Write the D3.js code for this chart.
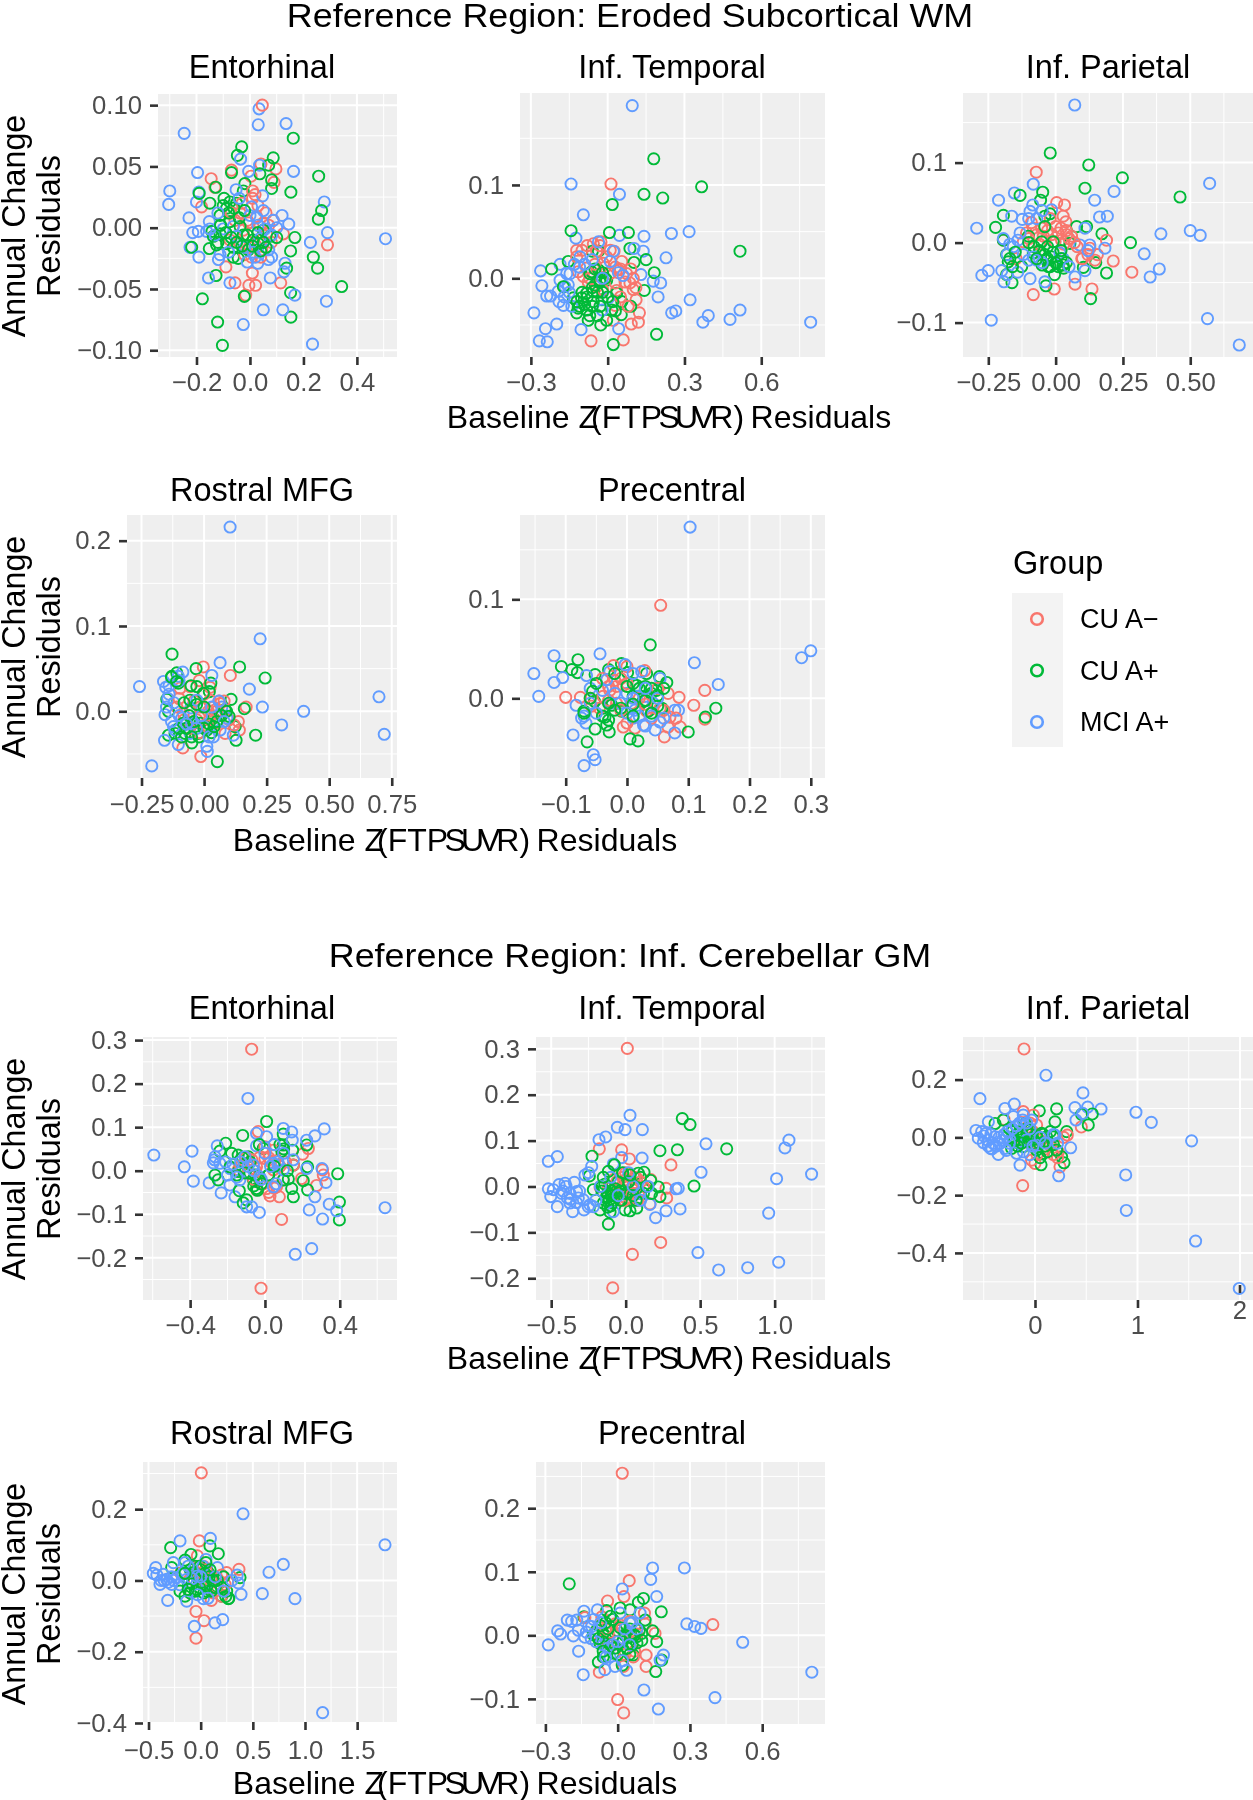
<!DOCTYPE html>
<html><head><meta charset="utf-8">
<script src="https://cdn.jsdelivr.net/npm/d3@7/dist/d3.min.js"></script>
<style>
html,body{margin:0;padding:0;background:#fff}
svg{display:block;filter:blur(0.35px)}
text{font-family:"Liberation Sans",Arial,sans-serif}
</style></head><body>
<div id="chart"></div>
<script>
// ---------- Data: [baseline residual, annual change residual] ----------
const groups = ["CU A−","CU A+","MCI A+"];
const groupColors = ["#F8766D","#00BA38","#619CFF"];
const regionTitles = ["Entorhinal","Inf. Temporal","Inf. Parietal","Rostral MFG","Precentral"];
const sectionTitles = ["Reference Region: Eroded Subcortical WM","Reference Region: Inf. Cerebellar GM"];

const wmEntorhinalRed=[[.046,.1],[-.069,.047],[.041,.052],[.097,.048],[.004,.042],[-.145,.04],[.09,.037],[-.181,.017],[.019,.027],[-.131,.033],[.29,-.014],[.125,-.005],[-.09,-.032],[.009,-.037],[-.056,-.045],[-.004,-.047],[.021,-.047],[.115,-.045],[-.016,-.055],[-.056,.006],[.025,.009],[-.006,.004],[.087,.006],[-.025,-.002],[.037,.001],[0,-.016],[.044,-.018],[.006,-.024],[-.037,.012],[.062,-.005],[-.075,-.01],[-.03,.02],[.01,.024],[.03,.018],[-.01,.006],[.015,-.004],[.05,.004],[.07,.002],[-.04,-.012],[.02,-.014],[.04,-.024],[-.02,-.022],[.06,.012],[.08,-.012],[-.07,.012],[.01,.03]];
const wmEntorhinalGreen=[[.162,.073],[-.031,.066],[-.047,.059],[.087,.057],[.07,.051],[-.069,.045],[.037,.044],[.257,.042],[.081,.039],[-.019,.036],[.081,.032],[-.128,.033],[.153,.029],[-.19,.028],[-.025,.03],[-.097,.024],[-.15,.02],[-.075,.021],[.268,.014],[.256,.007],[-.112,.01],[-.087,.016],[-.05,.02],[-.142,-.003],[-.218,-.016],[-.152,-.017],[-.125,-.014],[.168,-.008],[.152,-.019],[.237,-.024],[.253,-.033],[.137,-.033],[-.127,-.039],[.343,-.048],[.152,-.053],[-.178,-.058],[-.021,-.056],[.153,-.073],[-.121,-.077],[-.103,-.096],[-.062,-.024],[-.044,-.025],[-.075,.005],[-.037,.001],[-.112,-.005],[-.087,-.013],[-.025,-.006],[.012,-.01],[.05,-.002],[.075,-.007],[-.062,-.016],[-.006,-.018],[.031,-.013],[-.137,-.007],[-.1,.018],[-.08,.012],[-.06,.016],[-.04,.008],[-.09,-.004],[-.07,-.008],[-.05,-.012],[-.03,-.015],[-.01,-.006],[.01,-.015],[.03,-.004],[.05,-.012],[.06,-.016],[-.11,.002],[-.12,-.012],[-.02,.014],[.1,-.008],[.04,-.019]];
const wmEntorhinalBlue=[[.034,.097],[.031,.084],[.135,.085],[-.246,.077],[-.035,.056],[.036,.051],[.163,.046],[-.005,.046],[-.196,.045],[-.3,.03],[-.304,.019],[-.191,.029],[-.2,.021],[-.228,.008],[-.152,.005],[-.214,-.004],[-.193,-.003],[-.162,-.003],[.278,.021],[.12,.01],[.145,.003],[.29,-.004],[.226,-.012],[.507,-.009],[-.224,-.016],[-.191,-.024],[-.112,-.022],[-.118,-.026],[.029,-.029],[.081,-.024],[.069,-.026],[.131,-.029],[.127,-.036],[.076,-.041],[-.155,-.041],[-.075,-.045],[.168,-.055],[.286,-.06],[.05,-.067],[.123,-.067],[-.025,-.079],[.234,-.095],[-.052,.031],[.047,.026],[.006,.017],[.05,.014],[.025,.008],[.087,.006],[-.062,.001],[-.1,-.001],[.056,-.001],[-.05,-.007],[-.019,-.016],[.012,-.02],[.081,-.006],[.037,-.009],[-.13,-.006],[-.15,-.001],[-.08,-.02],[0,.01],[.03,.002],[.1,0],[.07,-.018],[.02,-.024],[-.01,-.028],[-.12,.012],[-.04,.024]];

const wmTemporalRed=[[.013,.101],[-.026,.039],[-.056,.037],[-.121,.03],[.025,.029],[.055,.018],[.074,.005],[.087,-.005],[.1,-.012],[.111,-.023],[.124,-.037],[.12,-.047],[.092,-.049],[-.065,-.067],[.061,-.066],[.022,-.045],[-.095,.002],[-.076,-.004],[-.043,-.009],[.009,.005],[-.082,.011],[-.115,.007],[-.017,.016],[.035,-.013],[.068,-.004],[.029,-.029],[-.121,.023],[-.043,.029],[-.004,.023],[.042,.009],[-.1,.03],[-.08,.035],[-.03,.035],[.01,.03],[-.01,.012],[.03,.012],[.05,.01],[.09,.01],[.1,0],[.11,-.01],[-.07,0],[-.02,-.012],[.05,-.02],[.08,-.03],[-.05,.015],[.03,-.005]];
const wmTemporalGreen=[[.18,.128],[.367,.098],[.142,.09],[.215,.086],[.018,.079],[-.143,.051],[.007,.049],[.081,.049],[.087,.032],[.517,.029],[-.036,.029],[-.06,.029],[.15,.02],[.103,.017],[-.154,.018],[-.219,.01],[.182,.006],[.143,-.013],[.09,-.03],[.053,-.039],[-.004,-.045],[-.027,-.05],[-.076,-.045],[.191,-.06],[.022,-.071],[-.121,-.037],[-.115,-.032],[-.134,-.021],[-.102,-.021],[-.056,-.014],[-.03,-.004],[-.063,.007],[-.004,-.002],[-.036,.009],[-.049,-.007],[-.082,-.016],[.035,-.016],[.055,-.025],[-.023,-.023],[-.056,-.025],[.016,-.034],[-.082,-.034],[-.173,-.009],[-.07,.005],[-.05,.01],[-.03,-.002],[-.01,0],[-.02,.006],[-.06,-.01],[-.04,-.015],[-.02,-.015],[-.08,-.02],[-.1,-.015],[-.09,-.028],[-.06,-.03],[-.03,-.03],[0,-.02],[.02,-.025],[-.11,-.03],[-.12,-.025],[-.07,-.04],[-.04,-.04],[.03,-.035]];
const wmTemporalBlue=[[.096,.185],[-.143,.101],[.046,.09],[-.095,.068],[-.124,.043],[.046,.046],[.142,.045],[.249,.048],[.318,.05],[.228,.022],[.139,.029],[.103,.032],[-.262,.008],[-.186,.015],[-.257,-.008],[.13,.004],[.178,-.003],[.207,-.005],[.197,-.02],[.322,-.023],[-.238,-.019],[-.223,-.019],[-.288,-.037],[-.199,-.049],[-.243,-.054],[-.267,-.067],[-.236,-.068],[-.104,-.055],[.043,-.054],[.25,-.037],[.266,-.035],[.393,-.04],[.372,-.047],[.478,-.044],[.517,-.034],[.793,-.047],[-.173,-.029],[-.167,-.009],[-.154,-.007],[-.186,-.002],[-.108,.023],[-.147,.005],[-.193,-.014],[.003,-.021],[-.021,-.034],[.042,.006],[-.036,.039],[.022,.029],[-.13,.015],[-.11,.012],[-.16,.005],[-.15,-.015],[-.17,-.02],[-.14,-.03],[-.19,-.025],[-.09,.015],[-.06,.02],[.01,.018],[.06,.003],[-.02,0]];

const wmParietalRed=[[-.072,.088],[.004,.05],[.033,.047],[.028,.033],[.038,.026],[-.194,.003],[-.147,-.02],[-.083,.018],[-.108,.012],[-.052,.018],[-.015,.01],[.01,.012],[.041,.01],[.059,.008],[.022,.003],[.189,.003],[.214,-.023],[.283,-.037],[.155,-.015],[.097,-.02],[.127,-.007],[.135,-.058],[.072,-.052],[-.005,-.058],[-.083,-.065],[-.046,.008],[-.12,.001],[-.002,.001],[.146,-.022],[-.09,.025],[-.07,.01],[-.03,.015],[-.06,-.002],[0,.02],[.02,.018],[.04,.015],[.05,.005],[.03,-.002],[.08,-.005],[-.1,.005],[.07,0],[-.02,.03],[.1,-.02],[.12,-.015]];
const wmParietalGreen=[[-.02,.112],[.123,.097],[.248,.081],[.109,.068],[.462,.057],[-.048,.063],[-.132,.059],[-.056,.053],[-.194,.034],[-.223,.019],[-.021,.036],[-.04,.033],[.078,.02],[.115,.02],[.172,.011],[.278,0],[-.194,.003],[.053,-.001],[-.182,-.015],[-.176,-.024],[-.182,-.04],[-.162,-.05],[-.126,-.03],[-.036,-.054],[-.004,-.04],[.189,-.038],[.149,-.025],[.103,-.031],[.13,-.07],[-.083,-.013],[-.058,-.011],[-.033,-.022],[-.027,-.03],[.004,-.026],[.028,-.028],[-.015,-.018],[-.052,.001],[-.009,.001],[-.101,.008],[-.08,-.005],[-.06,-.01],[-.04,-.015],[-.03,-.02],[-.02,-.03],[0,-.025],[.02,-.02],[.03,-.032],[.04,-.025],[-.05,-.028],[-.01,-.012],[-.07,-.02],[.01,-.03],[-.03,-.005],[-.17,-.02],[-.16,-.03],[-.15,-.012],[.02,-.01],[-.04,.02],[-.1,0]];
const wmParietalBlue=[[.071,.172],[.572,.074],[-.083,.073],[.217,.064],[-.153,.062],[-.212,.053],[.145,.053],[-.015,.041],[-.085,.047],[-.095,.039],[.163,.032],[.192,.033],[-.163,.033],[-.124,.029],[-.293,.018],[.391,.011],[.5,.015],[.537,.009],[.329,-.014],[.385,-.033],[.351,-.043],[.183,-.007],[.109,.018],[.127,-.003],[.09,-.003],[-.25,-.035],[-.274,-.041],[-.2,-.035],[-.192,-.049],[-.179,-.04],[-.141,-.037],[-.095,-.045],[-.04,-.049],[.072,-.043],[.109,-.035],[-.239,-.097],[.564,-.095],[.682,-.128],[.016,-.013],[.028,-.02],[-.132,.012],[-.157,-.005],[-.194,.005],[-.083,-.018],[-.07,-.022],[-.18,-.015],[-.17,-.002],[-.14,.003],[-.12,-.015],[-.1,-.022],[-.05,-.025],[-.1,.03],[-.07,.03],[-.05,.04],[.12,-.01],[.05,-.03]];

const wmRostralRed=[[-.003,.052],[.105,.042],[-.019,.036],[.024,.028],[-.096,.027],[-.056,.029],[.168,.005],[.137,-.012],[.141,-.022],[-.085,-.043],[-.013,-.053],[.084,-.026],[.064,.009],[.017,0],[-.109,.005],[-.083,-.002],[-.029,-.01],[.037,.005],[.011,-.018],[.051,-.014],[-.016,.005],[-.056,0],[.024,.013],[-.1,.015],[-.08,-.01],[-.06,-.02],[-.04,.012],[0,.02],[.03,-.005],[.05,0],[.08,.012],[.1,-.01],[.12,-.016],[-.02,-.025],[.02,-.01],[.06,.012]];
const wmRostralGreen=[[-.128,.067],[-.032,.05],[.142,.052],[.244,.039],[-.129,.041],[-.109,.045],[-.052,.03],[.027,.033],[.021,.023],[.108,.014],[-.149,.014],[.161,.003],[.206,-.028],[.128,-.034],[.053,-.059],[.124,-.018],[-.142,-.028],[-.116,-.026],[-.049,-.037],[-.076,-.026],[-.023,-.026],[.011,-.022],[-.016,-.014],[.037,-.008],[.064,-.004],[.084,.002],[-.056,.013],[-.003,.021],[-.103,.033],[-.029,.029],[-.083,-.014],[-.142,0],[-.1,-.02],[-.09,-.03],[-.07,-.02],[-.06,-.005],[-.04,-.012],[-.02,-.03],[0,-.02],[.02,-.015],[.03,-.025],[.05,-.012],[.07,-.005],[.09,0],[.1,-.006],[-.03,.008],[0,.005],[-.08,.01],[-.13,.04],[-.11,.035],[.04,-.018],[-.05,-.03]];
const wmRostralBlue=[[.104,.216],[.224,.085],[.064,.057],[-.258,.029],[.181,.026],[.233,.005],[.398,0],[.31,-.016],[.699,.017],[.72,-.027],[-.209,-.064],[-.085,.046],[-.103,.041],[-.162,.035],[-.153,.028],[.031,.042],[-.145,.015],[-.053,.004],[-.156,-.004],[-.158,-.034],[-.103,-.039],[.011,-.041],[.013,-.047],[-.069,-.012],[-.116,-.022],[.037,-.03],[.071,.005],[.117,-.028],[-.029,.013],[-.089,-.008],[-.122,-.018],[-.056,-.026],[-.003,-.018],[.064,-.022],[.091,-.008],[-.049,-.014],[-.14,.02],[-.12,.01],[-.13,-.012],[-.1,-.005],[-.07,-.015],[-.03,-.02],[-.01,-.005],[.03,.005],[.06,.012],[.08,-.012],[-.15,.005],[-.14,.03],[-.1,.036],[.02,-.03]];

const wmPrecentralRed=[[.055,.094],[.127,.008],[-.1,.001],[-.076,.001],[.085,.001],[.109,-.007],[.127,-.021],[.087,-.029],[.061,-.039],[.067,-.029],[.067,.005],[-.022,.033],[.029,.028],[-.033,.019],[-.017,.012],[-.028,.008],[-.039,.002],[-.006,.013],[-.058,-.008],[.013,-.03],[-.006,-.029],[.054,-.01],[.07,-.019],[0,.032],[.008,-.005],[-.017,-.005],[.032,-.013],[-.04,.02],[-.03,.012],[-.02,.018],[-.01,.02],[0,.015],[-.03,-.002],[-.01,-.012],[.02,0],[.04,-.02],[.06,-.012],[-.045,-.01],[.05,.01],[0,-.025],[.08,-.02],[-.06,0],[.03,-.006]];
const wmPrecentralGreen=[[.038,.054],[-.08,.039],[-.107,.032],[-.09,.029],[-.081,.026],[-.052,.024],[-.009,.035],[.001,.026],[.032,.025],[-.03,.029],[.053,.022],[.065,.016],[.016,.013],[.048,.008],[-.056,.007],[-.053,-.003],[-.07,-.013],[-.052,-.031],[-.065,-.044],[-.029,-.034],[-.033,-.027],[.005,-.041],[.018,-.043],[.1,-.034],[.128,-.019],[.145,-.01],[.057,-.01],[.035,-.013],[-.009,-.013],[-.039,-.01],[-.025,-.007],[.01,.002],[.027,-.003],[.04,.005],[-.036,-.019],[0,.012],[.01,.015],[.02,.01],[.03,.012],[.04,.01],[.05,.003],[.05,-.008],[.03,-.002],[.01,-.006],[-.01,-.01],[-.03,-.005],[-.04,-.018],[-.02,-.012],[-.06,0],[.01,-.018],[.04,-.015],[-.03,-.022],[-.02,.025],[-.05,.015],[-.07,-.015],[.06,.01]];
const wmPrecentralBlue=[[.103,.173],[.3,.048],[.285,.041],[.11,.036],[-.044,.045],[-.119,.043],[-.152,.025],[-.119,.016],[-.105,.021],[-.144,.002],[.149,.014],[-.066,.023],[-.06,.01],[-.083,-.007],[-.074,-.02],[-.067,-.025],[-.088,-.037],[-.055,-.057],[-.052,-.062],[-.07,-.068],[.046,-.032],[.078,-.035],[.084,-.012],[.078,-.012],[.054,-.024],[.024,.027],[-.003,.034],[-.028,.027],[.054,.02],[0,.005],[.029,.002],[.013,-.012],[-.011,-.005],[-.033,.019],[.027,-.027],[.01,-.02],[.043,-.005],[.016,.002],[-.028,-.005],[-.07,-.018],[-.06,-.005],[-.04,.008],[-.02,.005],[.01,0],[.03,.01],[.02,-.018],[0,-.015],[.04,-.018],[.05,0],[.01,.025],[.06,-.02],[-.05,-.015],[.03,-.028]];

const gmEntorhinalRed=[[-.071,.279],[-.036,.09],[-.021,-.27],[.089,-.112],[.232,.051],[.201,.038],[.308,.002],[.312,-.01],[.276,-.034],[.196,-.018],[.077,-.06],[.027,-.058],[0,.055],[.045,.047],[0,.028],[-.045,.009],[-.089,-.006],[-.143,.002],[.009,-.041],[-.027,-.021],[.062,-.037],[.098,-.021],[.152,.013],[-.045,-.044],[.045,.002],[-.1,.03],[-.07,.025],[-.03,.03],[.02,.03],[.05,.035],[.08,.01],[.03,.02],[-.06,-.02],[-.01,-.03],[.05,-.04],[.02,-.05],[-.05,0],[.11,.02],[-.13,.01]];
const gmEntorhinalGreen=[[.009,.113],[-.119,.081],[-.21,.063],[-.241,.045],[-.178,.04],[-.267,-.01],[-.25,-.021],[.098,.084],[.098,.059],[.223,.059],[.148,.047],[-.009,.051],[-.143,.036],[-.089,.032],[.152,.013],[.228,.009],[.389,-.007],[.398,-.072],[.398,-.113],[.228,-.044],[.205,-.023],[.125,-.019],[.152,-.06],[.143,-.041],[-.098,-.067],[-.116,-.074],[-.137,-.046],[.018,-.01],[-.045,-.025],[-.062,-.021],[-.045,-.041],[-.143,-.002],[.098,-.021],[-.187,.009],[-.08,-.006],[-.12,.03],[-.08,.02],[-.05,-.01],[-.06,-.035],[-.04,-.045],[-.02,-.03],[.02,-.01],[.05,.01],[.09,.045],[.1,.05],[-.15,-.01],[-.11,-.005],[.12,0],[.08,.06],[-.03,.06]];
const gmEntorhinalBlue=[[-.091,.166],[-.594,.036],[-.39,.045],[-.431,.009],[-.383,-.024],[-.298,-.028],[-.255,.057],[-.267,.032],[-.276,.018],[-.241,.017],[-.187,.005],[-.234,-.051],[-.16,-.06],[-.187,-.033],[.098,.097],[.143,.089],[.317,.096],[.267,.08],[.223,.07],[.146,.07],[.009,.078],[-.045,.086],[-.045,.057],[.305,.005],[.223,.005],[.326,-.027],[.267,-.06],[.237,-.09],[.344,-.077],[.383,-.092],[.308,-.111],[.642,-.085],[.25,-.179],[.162,-.192],[-.03,-.096],[-.071,-.083],[-.098,-.083],[.071,.013],[.045,.017],[-.062,.013],[-.134,-.021],[-.027,-.014],[.098,.002],[.045,-.037],[.152,.025],[-.107,.032],[-.21,.02],[-.17,.015],[-.13,.02],[-.09,.01],[-.06,0],[-.02,-.02],[.03,.01],[.07,.02],[.06,-.03],[.1,.04],[-.15,-.015],[-.2,-.01],[-.27,.025],[0,.04],[.05,.06]];

const gmTemporalRed=[[.011,.301],[-.177,.082],[-.027,.08],[.025,.06],[.304,.047],[.168,.015],[.271,-.004],[.275,-.025],[.235,-.122],[.045,-.148],[-.087,-.221],[.163,-.038],[-.172,-.001],[-.083,.015],[-.038,.029],[0,.002],[.051,.007],[.085,-.015],[.029,-.015],[-.06,-.015],[-.116,-.004],[-.016,-.022],[.119,0],[.074,.018],[-.1,0],[-.06,.01],[-.02,.02],[0,.015],[.02,.01],[-.04,-.005],[.05,-.015],[.08,-.03],[.1,.01],[-.01,-.03],[.03,-.025],[-.08,-.02],[.06,.02],[0,.03]];
const gmTemporalGreen=[[.38,.148],[.432,.135],[.23,.078],[.347,.08],[.678,.082],[-.226,.066],[-.244,.023],[.459,.001],[.219,-.001],[.23,-.022],[-.116,-.082],[-.172,-.051],[-.105,-.056],[-.004,-.051],[.029,-.053],[.074,-.047],[.123,.031],[.085,.029],[-.02,.029],[-.116,.033],[-.076,.047],[.168,.013],[-.217,-.007],[-.161,0],[-.128,-.022],[-.083,-.015],[-.004,.004],[.074,-.004],[-.038,-.029],[.029,-.029],[.119,-.015],[-.15,-.036],[-.094,-.036],[.174,-.015],[-.16,-.01],[-.14,.005],[-.13,-.025],[-.12,-.015],[-.11,-.03],[-.1,-.01],[-.09,-.02],[-.08,-.03],[-.07,-.005],[-.06,-.02],[-.05,.01],[-.04,-.01],[-.03,-.03],[-.02,.03],[0,-.015],[.02,.01],[.05,-.02],[.07,-.03],[.1,.02],[.14,0],[-.12,-.045],[-.1,-.042],[-.15,.02],[.03,.025]];
const gmTemporalBlue=[[.029,.155],[-.056,.129],[-.004,.124],[.112,.124],[-.134,.108],[-.179,.102],[-.459,.065],[-.519,.055],[.539,.093],[1.096,.101],[1.069,.084],[1.248,.027],[1.013,.017],[.96,-.058],[.506,.031],[.11,.062],[-.027,.063],[-.228,.044],[-.083,.049],[.353,-.004],[.338,-.005],[.365,-.049],[.271,-.053],[.201,-.068],[.163,-.039],[.485,-.144],[.624,-.182],[.819,-.177],[1.027,-.165],[-.519,-.005],[-.503,-.022],[-.459,-.044],[-.485,-.007],[-.447,.004],[-.407,.007],[-.345,.009],[-.391,-.025],[-.374,-.036],[-.356,-.055],[-.28,-.051],[-.251,-.044],[-.329,-.011],[-.273,.025],[-.284,-.029],[-.217,-.044],[-.083,-.055],[-.43,-.015],[-.374,-.015],[-.318,-.025],[.096,-.015],[-.25,.03],[-.24,-.04],[-.2,-.03],[-.17,0],[-.1,.02],[-.05,-.02],[.02,.03],[.05,0],[.1,-.03],[.15,0],[-.33,-.035],[-.31,-.01],[-.37,-.028],[-.4,0],[-.42,-.01]];

const gmParietalRed=[[-.107,.306],[-.12,-.167],[-.302,.062],[-.114,.089],[-.016,.077],[.016,.043],[.452,.036],[.315,.008],[.228,-.05],[.244,-.102],[0,-.09],[-.033,-.079],[.146,-.027],[.211,-.044],[-.146,.002],[.016,.008],[.081,-.032],[-.049,-.021],[-.091,.031],[-.05,.05],[-.02,.02],[.05,-.01],[.1,-.04],[.18,-.06],[.22,-.07],[.02,-.06],[.12,-.015],[.28,0]];
const gmParietalGreen=[[.211,.099],[.042,.092],[-.309,.06],[-.39,.048],[.195,.054],[.309,.02],[.455,.08],[.559,.081],[.52,.043],[.283,-.088],[.059,-.095],[.081,-.055],[.26,-.067],[-.228,-.038],[-.211,.002],[-.146,-.009],[-.081,.014],[-.016,-.021],[.114,.002],[.179,.002],[-.179,.037],[-.098,.048],[.065,.014],[-.244,-.009],[-.114,-.032],[.016,-.044],[.211,-.044],[-.049,.025],[-.22,.02],[-.2,-.01],[-.18,.01],[-.16,-.02],[-.14,.02],[-.12,.005],[-.1,-.015],[-.08,.03],[-.06,-.01],[-.04,.01],[-.02,-.03],[.02,0],[.04,-.02],[.08,.01],[.1,-.03],[.15,.02],[-.25,.03],[.18,-.025],[.05,-.07],[.12,-.05],[-.17,-.03],[-.13,-.02]];
const gmParietalBlue=[[.107,.215],[-.537,.134],[.468,.154],[-.202,.115],[-.293,.1],[.39,.103],[.514,.105],[.644,.098],[.985,.087],[1.135,.052],[1.528,-.012],[.885,-.13],[.891,-.253],[1.567,-.359],[1.993,-.523],[.4,.06],[.465,.083],[-.455,.054],[-.576,.024],[-.52,.02],[-.478,.014],[-.553,-.003],[-.504,-.018],[-.455,-.03],[-.433,-.038],[-.358,-.059],[-.39,.002],[-.341,-.021],[-.293,-.038],[-.211,.072],[-.114,.077],[-.033,.06],[-.146,-.096],[.231,-.133],[.348,-.036],[.195,.008],[-.179,-.055],[-.276,.002],[-.081,-.009],[.016,-.027],[-.114,-.05],[-.244,-.009],[-.5,.005],[-.46,-.01],[-.43,.01],[-.41,-.02],[-.38,-.03],[-.35,0],[-.32,-.01],[-.3,.01],[-.27,.02],[-.25,-.02],[-.22,.03],[-.18,.04],[-.15,.05],[-.12,.06],[-.08,.05],[-.05,.03],[-.02,-.03],[.05,0],[.1,-.02],[.18,.01],[.22,-.02],[-.42,-.04],[-.28,-.045],[-.05,-.06]];

const gmRostralRed=[[.006,.302],[-.013,.111],[-.032,.069],[-.192,.021],[-.045,-.087],[.032,-.113],[-.045,-.162],[.367,.031],[.249,.022],[.102,-.056],[.198,-.044],[.058,-.016],[-.038,.022],[.233,-.011],[.121,.003],[.026,.04],[-.02,.04],[.02,.02],[.06,-.012],[.1,.005],[.15,-.02],[.2,.015],[0,-.005],[-.06,0],[.12,-.035],[.05,.03],[.26,-.005]];
const gmRostralGreen=[[-.288,.092],[.089,.097],[.169,.075],[-.093,.073],[-.15,.057],[-.278,.036],[.377,.008],[.265,-.051],[.201,-.044],[-.15,-.044],[-.198,-.03],[-.102,-.035],[-.038,-.025],[.058,-.03],[.153,-.016],[.249,-.03],[-.006,.008],[.073,.022],[-.07,.022],[-.118,-.007],[.121,-.002],[-.006,.04],[-.1,.03],[-.05,.04],[-.03,.01],[0,.03],[.02,-.01],[.04,.02],[.06,-.015],[.08,.01],[.1,-.03],[.12,0],[.14,-.02],[.16,0],[-.08,-.01],[-.05,-.03],[-.01,-.02],[.03,-.035],[.2,-.02],[.24,-.045],[.27,-.05],[.22,.01],[-.15,.02],[.05,.05],[.09,.03],[-.12,-.025]];
const gmRostralBlue=[[1.767,.1],[1.169,-.371],[.406,.187],[.093,.118],[-.198,.111],[.792,.045],[.655,.023],[.904,-.051],[.591,-.037],[.387,-.039],[-.316,-.056],[-.431,.036],[-.454,.02],[-.262,.05],[.051,.059],[.16,.036],[-.061,-.129],[.137,-.119],[.211,-.11],[-.358,.017],[-.39,-.011],[-.326,.003],[-.278,-.011],[-.23,.008],[-.15,.05],[-.134,-.058],[.026,-.051],[.361,-.007],[-.038,.012],[.058,-.007],[-.134,.003],[-.35,0],[-.31,-.005],[-.28,.01],[-.26,0],[-.2,-.012],[-.17,.02],[-.12,.04],[-.08,.005],[-.03,-.04],[.02,.04],[.07,-.05],[.14,.01],[.3,0],[.35,.015],[-.42,.015],[-.38,0],[0,.01],[.22,-.03]];

const gmPrecentralRed=[[.019,.255],[.048,.086],[.026,.061],[-.042,.054],[.111,.035],[.114,.018],[.395,.017],[.155,.003],[.118,-.031],[.118,-.049],[-.076,-.058],[.024,-.049],[0,-.101],[.025,-.122],[-.018,-.015],[-.066,.029],[-.136,.028],[.051,.022],[.01,.016],[.065,-.034],[-.094,.003],[-.039,.003],[-.07,-.008],[-.04,-.012],[-.01,.018],[.02,.012],[.05,.005],[.08,.002],[.07,-.025],[.03,-.03],[-.05,.01],[0,-.01]];
const gmPrecentralGreen=[[-.201,.081],[.107,.058],[.086,.052],[.181,.037],[.051,.04],[.01,.043],[-.046,.039],[-.14,.029],[.114,.024],[.145,.007],[.162,-.01],[.183,-.039],[.158,-.057],[.019,-.047],[-.08,-.042],[-.06,-.034],[.065,-.031],[-.032,.014],[-.087,.008],[-.046,-.007],[-.004,.008],[.044,-.013],[.079,-.002],[.1,.003],[-.073,-.013],[.024,-.023],[-.018,-.028],[.051,-.002],[-.06,.003],[-.101,.001],[-.07,.015],[-.06,-.01],[-.05,.02],[-.04,.01],[-.03,-.015],[-.02,.025],[-.01,-.02],[.01,.012],[.02,-.01],[.03,0],[.04,-.02],[.05,.01],[.06,-.015],[.07,0],[.08,-.012],[.09,.008],[0,-.03],[-.06,-.025],[-.08,-.005],[.05,-.03],[.1,-.008],[-.03,.03]];
const gmPrecentralBlue=[[.806,-.058],[.519,-.011],[.404,-.098],[.277,.106],[.145,.106],[.137,.088],[.162,.061],[.019,.073],[.287,.018],[.319,.014],[.346,.011],[.169,-.116],[.109,-.086],[.19,-.031],[.176,-.039],[-.143,-.062],[-.162,-.025],[-.288,-.015],[-.249,.007],[-.237,.002],[-.209,.024],[-.191,.022],[-.14,.038],[-.084,.04],[-.184,-.001],[-.163,.008],[-.136,-.003],[-.17,.024],[.037,-.055],[-.011,-.049],[-.053,-.054],[.024,-.005],[-.06,-.015],[-.032,-.034],[.051,.019],[.093,.035],[-.108,.014],[.01,.035],[-.12,.015],[-.11,-.005],[-.09,-.01],[-.07,.02],[-.04,-.02],[-.02,-.015],[0,-.01],[.03,.01],[.05,-.015],[.08,.01],[-.1,.025],[-.13,.005],[-.05,-.035],[.02,-.04],[.06,.02]];

// ---------- Axis breaks ----------
const xBreaks=[[-.2,0,.2,.4],[-.3,0,.3,.6],[-.25,0,.25,.5],[-.25,0,.25,.5,.75],[-.1,0,.1,.2,.3],[-.4,0,.4],[-.5,0,.5,1],[0,1,2],[-.5,0,.5,1,1.5],[-.3,0,.3,.6]];
const yBreaks=[[-.1,-.05,0,.05,.1],[0,.1],[-.1,0,.1],[0,.1,.2],[0,.1],[-.2,-.1,0,.1,.2,.3],[-.2,-.1,0,.1,.2,.3],[-.4,-.2,0,.2],[-.4,-.2,0,.2],[-.1,0,.1,.2]];
const xDecimals=[1,1,2,2,1,1,1,0,1,1], yDecimals=[2,1,1,1,1,1,1,1,1,1];
const xDomains=[[-.344,.55],[-.3425,.849],[-.344,.733],[-.308,.771],[-.1746,.3232],[-.652,.706],[-.602,1.338],[-.7024,2.127],[-.553,1.882],[-.339,.8606]];
const yDomains=[[-.1055,.1091],[-.0843,.1985],[-.143,.187],[-.0782,.2301],[-.0805,.1852],[-.297,.3071],[-.2474,.3258],[-.563,.3475],[-.3972,.3324],[-.1395,.2727]];

const panelData=[
 [wmEntorhinalRed,wmEntorhinalGreen,wmEntorhinalBlue],[wmTemporalRed,wmTemporalGreen,wmTemporalBlue],[wmParietalRed,wmParietalGreen,wmParietalBlue],[wmRostralRed,wmRostralGreen,wmRostralBlue],[wmPrecentralRed,wmPrecentralGreen,wmPrecentralBlue],
 [gmEntorhinalRed,gmEntorhinalGreen,gmEntorhinalBlue],[gmTemporalRed,gmTemporalGreen,gmTemporalBlue],[gmParietalRed,gmParietalGreen,gmParietalBlue],[gmRostralRed,gmRostralGreen,gmRostralBlue],[gmPrecentralRed,gmPrecentralGreen,gmPrecentralBlue]];

// ---------- Layout ----------
const rects=[[158,397,94,357],[520,825,93,357],[963,1253,93,357],[127,397,515,778],[520,825,515,778],[143,397,1037,1300],[536,825,1037,1300],[963,1253,1037,1300],[143,397,1462,1722],[536,825,1462,1724]];
const titleX=[262,672,1108,262,672,262,672,1108,262,672];
const titleY=[78,78,78,501,501,1019,1019,1019,1444,1444];
const tickPad=[8,8,8,9,9,8,8,8,11,10];
const YLAB=[226,647,1169,1594], XLAB=[[669,428],[455,851],[669,1369],[455,1794]];
const xTitle="Baseline Z(FTP SUVR) Residuals";
// per-character squeeze of the x title, as in the reference's uneven letter spacing
const xTitleDx=[0,0,0,0,0,0,0,0,0,0,-7,0,0,0,-8.9,-3,-5,-5,-4,0,-2.4,0,0,0,0,0,0,0,0,0];

const svg=d3.select("#chart").append("svg").attr("width",1253).attr("height",1800).attr("viewBox","0 0 1253 1800");
const fmtMinus=(v,d)=>d3.format("."+d+"f")(v).replace("-","\u2212");

sectionTitles.forEach((t,i)=>svg.append("text").attr("transform",`translate(630,${i?967:27}) scale(1.105,1)`).attr("text-anchor","middle").attr("font-size",32.5).attr("fill","#000").text(t));

panelData.forEach((pd,i)=>{
  const [x0,x1,y0,y1]=rects[i];
  const x=d3.scaleLinear().domain(xDomains[i]).range([x0,x1]);
  const y=d3.scaleLinear().domain(yDomains[i]).range([y1,y0]);
  const g=svg.append("g");
  g.append("rect").attr("x",x0).attr("y",y0).attr("width",x1-x0).attr("height",y1-y0).attr("fill","#EFEFEF");
  const minors=b=>{const s=b[1]-b[0],o=[];for(let k=-1;k<b.length;k++)o.push(b[0]+(k+.5)*s);return o;};
  const inD=(v,d)=>v>=d[0]&&v<=d[1];
  const gx=g.append("g"), gy=g.append("g");
  minors(xBreaks[i]).filter(v=>inD(v,xDomains[i])).forEach(v=>gx.append("line").attr("x1",x(v)).attr("x2",x(v)).attr("y1",y0).attr("y2",y1).attr("stroke","#fff").attr("stroke-width",1));
  minors(yBreaks[i]).filter(v=>inD(v,yDomains[i])).forEach(v=>gy.append("line").attr("y1",y(v)).attr("y2",y(v)).attr("x1",x0).attr("x2",x1).attr("stroke","#fff").attr("stroke-width",1));
  xBreaks[i].forEach(v=>gx.append("line").attr("x1",x(v)).attr("x2",x(v)).attr("y1",y0).attr("y2",y1).attr("stroke","#fff").attr("stroke-width",2));
  yBreaks[i].forEach(v=>gy.append("line").attr("y1",y(v)).attr("y2",y(v)).attr("x1",x0).attr("x2",x1).attr("stroke","#fff").attr("stroke-width",2));
  // interleave the three groups, as the points appear mixed in the original draw order
  const n=d3.max(pd,a=>a.length), merged=[];
  for(let k=0;k<n;k++) [2,0,1].forEach(c=>{if(k<pd[c].length)merged.push({p:pd[c][k],c});});
  g.append("g").selectAll("circle").data(merged).join("circle")
    .attr("cx",d=>x(d.p[0])).attr("cy",d=>y(d.p[1])).attr("r",5.6)
    .attr("fill","none").attr("stroke",d=>groupColors[d.c]).attr("stroke-width",1.9);
  const ax=g.append("g").attr("transform",`translate(0,${y1})`).call(d3.axisBottom(x).tickValues(xBreaks[i]).tickSize(8).tickPadding(tickPad[i]).tickFormat(v=>fmtMinus(v,xDecimals[i])));
  const ay=g.append("g").attr("transform",`translate(${x0},0)`).call(d3.axisLeft(y).tickValues(yBreaks[i]).tickSize(8).tickPadding(8).tickFormat(v=>fmtMinus(v,yDecimals[i])));
  [ax,ay].forEach(a=>{a.select(".domain").remove();a.selectAll("line").attr("stroke","#333").attr("stroke-width",2.6);
    a.selectAll("text").attr("fill","#4D4D4D").attr("font-size",25.7).attr("font-family",'"Liberation Sans",Arial,sans-serif');});
  if(i===7){ax.selectAll(".tick").filter(v=>v===2).attr("transform",`translate(${x(2)},-15)`);}
  svg.append("text").attr("x",titleX[i]).attr("y",titleY[i]).attr("text-anchor","middle").attr("font-size",32.5).attr("fill","#000").text(regionTitles[i%5]);
});

// Axis titles
YLAB.forEach(c=>{
  const t=svg.append("text").attr("transform",`translate(25,${c}) rotate(-90)`).attr("text-anchor","middle").attr("font-size",32.3).attr("fill","#000");
  t.append("tspan").attr("x",0).attr("y",0).text("Annual Change");
  t.append("tspan").attr("x",0).attr("y",35).text("Residuals");
});
XLAB.forEach(([cx,cy])=>{
  svg.append("text").attr("x",cx).attr("y",cy).attr("dx",xTitleDx.join(" ")).attr("text-anchor","middle").attr("font-size",32).attr("fill","#000").text(xTitle);
});

// Legend
svg.append("text").attr("x",1013).attr("y",574).attr("font-size",32.5).attr("fill","#000").text("Group");
svg.append("rect").attr("x",1012).attr("y",593).attr("width",51).attr("height",154).attr("fill","#F3F3F3");
const keyY=d3.scalePoint().domain(groups).range([619,722]);
groups.forEach((g,i)=>{
  svg.append("circle").attr("cx",1037).attr("cy",keyY(g)).attr("r",5.8).attr("fill","none").attr("stroke",groupColors[i]).attr("stroke-width",2.6);
  svg.append("text").attr("x",1080).attr("y",keyY(g)+9).attr("font-size",27).attr("fill","#000").text(g);
});
</script>
</body></html>
